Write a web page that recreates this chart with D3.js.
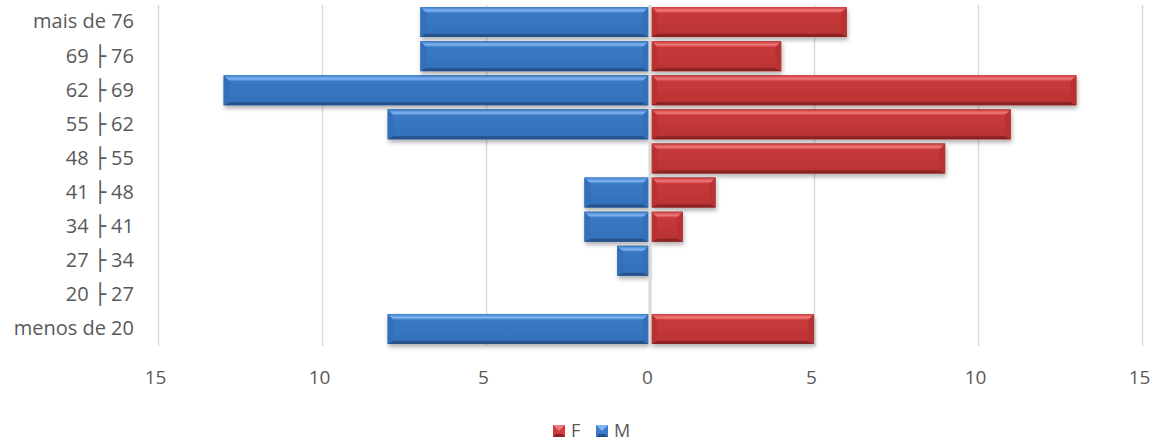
<!DOCTYPE html>
<html>
<head>
<meta charset="utf-8">
<script src="https://cdn.jsdelivr.net/npm/d3@7"></script>
<style>
  body { margin: 0; background: #fff; }
  svg text { font-family: "Open Sans", "DejaVu Sans", sans-serif; fill: #595959; }
</style>
</head>
<body>
<svg width="1157" height="443"></svg>
<script>
// age groups, bottom to top
var categories = ["menos de 20", "20 ├ 27", "27 ├ 34", "34 ├ 41", "41 ├ 48",
                  "48 ├ 55", "55 ├ 62", "62 ├ 69", "69 ├ 76", "mais de 76"];
var valuesF = [5, 0, 0, 1, 2, 9, 11, 13, 4, 6];
var valuesM = [8, 0, 1, 2, 2, 0, 8, 13, 7, 7];
var xTicks = [-15, -10, -5, 0, 5, 10, 15];
var seriesNames = ["F", "M"];

var svg = d3.select("svg");
var plotTop = 5, plotBottom = 346;

var x = d3.scaleLinear().domain([-15, 15]).range([158, 1142]);
var y = d3.scaleBand().domain(categories.slice().reverse())
    .range([plotTop, plotBottom]).paddingInner(0.12).paddingOuter(0.06);

var colors = {
  F: { base: "#cd3b3c", light: "#ef7a7a", mid: "#b83233", dark: "#8a2324" },
  M: { base: "#3c7bc8", light: "#80b6f2", mid: "#3370b9", dark: "#25518a" }
};

var defs = svg.append("defs");
var shadow = defs.append("filter").attr("id", "shadow")
    .attr("x", "-10%").attr("y", "-30%").attr("width", "130%").attr("height", "180%");
shadow.append("feDropShadow").attr("dx", 1).attr("dy", 3)
    .attr("stdDeviation", 2).attr("flood-color", "#000").attr("flood-opacity", 0.3);

seriesNames.forEach(function(s) {
  var c = colors[s];
  var g1 = defs.append("linearGradient").attr("id", "face" + s)
      .attr("x1", 0).attr("y1", 0).attr("x2", 0).attr("y2", 1);
  g1.append("stop").attr("offset", "0%").attr("stop-color", c.base);
  g1.append("stop").attr("offset", "100%").attr("stop-color", c.mid);
  var g2 = defs.append("linearGradient").attr("id", "top" + s)
      .attr("x1", 0).attr("y1", 0).attr("x2", 0).attr("y2", 1);
  g2.append("stop").attr("offset", "0%").attr("stop-color", c.base);
  g2.append("stop").attr("offset", "60%").attr("stop-color", c.light);
  g2.append("stop").attr("offset", "100%").attr("stop-color", c.base);
});

// gridlines
svg.append("g")
    .attr("transform", "translate(0," + plotTop + ")")
    .call(d3.axisBottom(x).tickValues(xTicks).tickSize(plotBottom - plotTop).tickFormat(""))
    .call(function(g) { g.select(".domain").remove(); })
    .call(function(g) { g.selectAll("line").attr("stroke", "#d9d9d9").attr("stroke-width", 1.5); });

// x labels
svg.append("g")
    .attr("transform", "translate(-3," + plotBottom + ")")
    .call(d3.axisBottom(x).tickValues(xTicks).tickSize(0).tickPadding(25)
      .tickFormat(function(d) { return Math.abs(d); }))
    .call(function(g) { g.select(".domain").remove(); })
    .call(function(g) { g.selectAll("text").attr("font-size", 19).attr("fill", "#595959"); });

// y labels
svg.append("g")
    .attr("transform", "translate(134,0)")
    .call(d3.axisLeft(y).tickSize(0).tickPadding(0))
    .call(function(g) { g.select(".domain").remove(); })
    .call(function(g) { g.selectAll("text").attr("font-size", 20).attr("fill", "#595959"); });

function bevelBar(sel, x0, x1, y0, y1, s) {
  var c = colors[s];
  var b = Math.min(6, (x1 - x0) / 2);
  var bb = 3;
  var g = sel.append("g").attr("filter", "url(#shadow)");
  g.append("rect").attr("x", x0).attr("y", y0).attr("width", x1 - x0).attr("height", y1 - y0)
      .attr("fill", "url(#face" + s + ")");
  g.append("polygon").attr("fill", c.mid)
      .attr("points", [[x0, y0], [x0 + b, y0 + b], [x0 + b, y1 - bb], [x0, y1]].join(" "));
  g.append("polygon").attr("fill", c.mid)
      .attr("points", [[x1, y0], [x1 - b, y0 + b], [x1 - b, y1 - bb], [x1, y1]].join(" "));
  g.append("polygon").attr("fill", "url(#top" + s + ")")
      .attr("points", [[x0, y0], [x1, y0], [x1 - b, y0 + b], [x0 + b, y0 + b]].join(" "));
  g.append("polygon").attr("fill", c.dark)
      .attr("points", [[x0, y1], [x1, y1], [x1 - b, y1 - bb], [x0 + b, y1 - bb]].join(" "));
}

var bars = svg.append("g");
categories.forEach(function(cat, i) {
  var y0 = y(cat), y1 = y(cat) + y.bandwidth();
  if (valuesM[i] > 0) bevelBar(bars, x(-valuesM[i]), x(0) - 1.5, y0, y1, "M");
  if (valuesF[i] > 0) bevelBar(bars, x(0) + 1.5, x(valuesF[i]), y0, y1, "F");
});

// zero line
svg.append("line")
    .attr("x1", x(0)).attr("x2", x(0)).attr("y1", plotTop).attr("y2", plotBottom)
    .attr("stroke", "#d9d9d9").attr("stroke-width", 3);

function bevelBarSmall(sel, s) {
  var c = colors[s];
  sel.append("rect").attr("width", 12).attr("height", 12).attr("fill", c.base);
  sel.append("polygon").attr("fill", c.light).attr("points", "0,0 12,0 6,6");
  sel.append("polygon").attr("fill", c.dark).attr("points", "0,12 12,12 9,9 3,9");
}

// legend
var legend = svg.append("g").attr("transform", "translate(553,425)");
var legendX = [0, 43];
seriesNames.forEach(function(s, i) {
  var lg = legend.append("g").attr("transform", "translate(" + legendX[i] + ",0)");
  bevelBarSmall(lg, s);
  lg.append("text").attr("x", 18).attr("y", 6).attr("dy", "0.35em")
      .attr("font-size", 18).text(s);
});
</script>
</body>
</html>
